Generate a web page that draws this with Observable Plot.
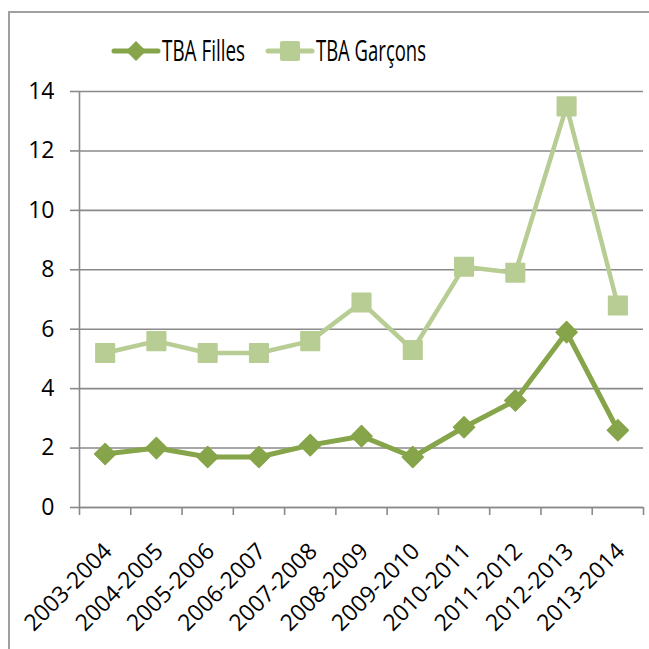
<!DOCTYPE html>
<html>
<head>
<meta charset="utf-8">
<script src="https://cdn.jsdelivr.net/npm/d3@7"></script>
<script src="https://cdn.jsdelivr.net/npm/@observablehq/plot@0.6"></script>
<style>
  html, body { margin: 0; padding: 0; background: #fff; overflow: hidden; width: 649px; height: 649px; }
  #wrap { position: relative; width: 649px; height: 649px; font-family: "Open Sans", sans-serif; }
  #frame { position: absolute; left: 8px; top: 11px; width: 800px; height: 800px; border-left: 2px solid #a0a0a0; border-top: 2px solid #a0a0a0; }
  #chart { position: absolute; left: 0; top: 0; }
  #legend { position: absolute; left: 0; top: 0; }
</style>
</head>
<body>
<div id="wrap">
  <div id="frame"></div>
  <div id="chart"></div>
  <div id="legend"></div>
</div>
<script>
const categories = ["2003-2004","2004-2005","2005-2006","2006-2007","2007-2008","2008-2009","2009-2010","2010-2011","2011-2012","2012-2013","2013-2014"];
const filles  = [1.8, 2.0, 1.7, 1.7, 2.1, 2.4, 1.7, 2.7, 3.6, 5.9, 2.6];
const garcons = [5.2, 5.6, 5.2, 5.2, 5.6, 6.9, 5.3, 8.1, 7.9, 13.5, 6.8];
const yTicks = [0, 2, 4, 6, 8, 10, 12, 14];
const seriesNames = ["TBA Filles", "TBA Garçons"];
const colorFilles = "#86a449";
const colorGarcons = "#b8cd94";
const gray = "#8a8a8a";

const idx = categories.map((c, i) => i);
const bounds = d3.range(categories.length + 1).map(i => i - 0.5);
const dataF = categories.map((c, i) => ({i, v: filles[i]}));
const dataG = categories.map((c, i) => ({i, v: garcons[i]}));

const plot = Plot.plot({
  width: 649,
  height: 649,
  marginLeft: 79,
  marginRight: 6,
  marginTop: 91,
  marginBottom: 142,
  style: {fontFamily: "'Open Sans', sans-serif", color: "#000", background: "transparent"},
  x: {type: "linear", domain: [-0.5, categories.length - 0.5]},
  y: {domain: [0, 14]},
  marks: [
    Plot.gridY({ticks: yTicks, stroke: gray, strokeOpacity: 1, strokeWidth: 1.6}),
    Plot.ruleX([-0.5], {stroke: gray, strokeWidth: 1.6}),
    Plot.ruleY([0], {stroke: gray, strokeWidth: 1.6}),
    Plot.axisY({ticks: yTicks, tickSize: 9, tickPadding: 16, fontSize: 23, stroke: gray, strokeWidth: 1.6, label: null}),
    Plot.axisX({ticks: bounds, tickSize: 8, tickFormat: () => "", stroke: gray, strokeWidth: 1.6, label: null}),
    Plot.axisX({ticks: idx, tickSize: 0, tickPadding: 40, tickRotate: -45, fontSize: 23, tickFormat: i => categories[i], label: null, dx: 3}),
    Plot.line(dataG, {x: "i", y: "v", stroke: colorGarcons, strokeWidth: 4.5}),
    Plot.dot(dataG, {x: "i", y: "v", symbol: "square", r: 10.5, fill: colorGarcons, stroke: colorGarcons, strokeWidth: 1.5, strokeLinejoin: "round"}),
    Plot.line(dataF, {x: "i", y: "v", stroke: colorFilles, strokeWidth: 5}),
    Plot.dot(dataF, {x: "i", y: "v", symbol: "diamond2", r: 9.5, fill: colorFilles, stroke: colorFilles, strokeWidth: 1.5, strokeLinejoin: "round"})
  ]
});
document.getElementById("chart").appendChild(plot);

// Legend
const lg = d3.select("#legend").append("svg").attr("width", 649).attr("height", 80);
const items = [
  {name: seriesNames[0], color: colorFilles, x1: 114, x2: 158, tx: 162, tw: 83, kind: "diamond"},
  {name: seriesNames[1], color: colorGarcons, x1: 268, x2: 312, tx: 316, tw: 110, kind: "square"}
];
items.forEach(it => {
  lg.append("line").attr("x1", it.x1).attr("x2", it.x2).attr("y1", 51).attr("y2", 51)
    .attr("stroke", it.color).attr("stroke-width", 5).attr("stroke-linecap", "round");
  const cx = (it.x1 + it.x2) / 2;
  if (it.kind === "diamond") {
    lg.append("path").attr("d", `M${cx},${51-10}L${cx+10},51L${cx},${51+10}L${cx-10},51Z`).attr("fill", it.color);
  } else {
    lg.append("rect").attr("x", cx - 10).attr("y", 41).attr("width", 20).attr("height", 20).attr("rx", 2).attr("fill", it.color);
  }
  lg.append("text").attr("x", it.tx).attr("y", 61).attr("font-size", 29)
    .attr("font-family", "'Open Sans', sans-serif").attr("fill", "#000")
    .attr("textLength", it.tw).attr("lengthAdjust", "spacingAndGlyphs")
    .text(it.name);
});
</script>
</body>
</html>
